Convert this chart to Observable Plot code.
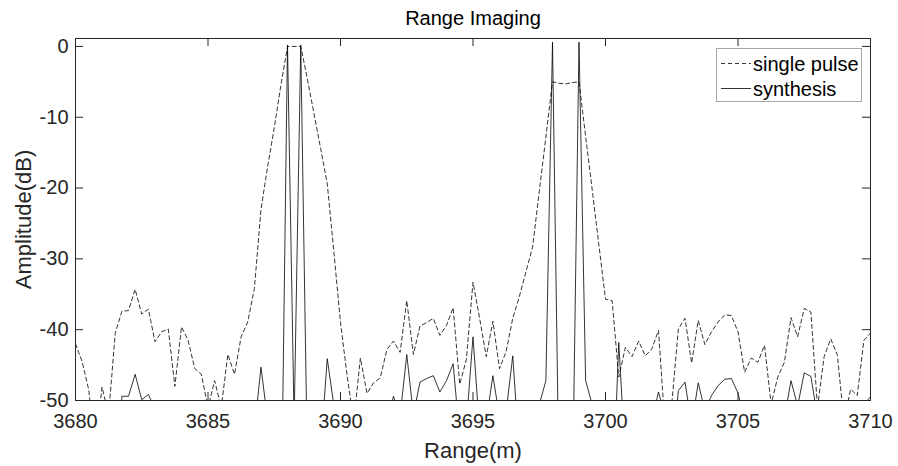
<!DOCTYPE html>
<html>
<head>
<meta charset="utf-8">
<script src="https://cdn.jsdelivr.net/npm/d3@7"></script>
<script src="https://cdn.jsdelivr.net/npm/@observablehq/plot@0.6"></script>
<style>
  html, body { margin: 0; padding: 0; background: #fff; }
  #chart { width: 898px; height: 466px; }
</style>
</head>
<body>
<div id="chart"></div>
<script>
// Range samples (m), step 0.25 m
const rangeM = [
  3680, 3680.25, 3680.5, 3680.75, 3681, 3681.25, 3681.5, 3681.75,
  3682, 3682.25, 3682.5, 3682.75, 3683, 3683.25, 3683.5, 3683.75,
  3684, 3684.25, 3684.5, 3684.75, 3685, 3685.25, 3685.5, 3685.75,
  3686, 3686.25, 3686.5, 3686.75, 3687, 3687.25, 3687.5, 3687.75,
  3688, 3688.25, 3688.5, 3688.75, 3689, 3689.25, 3689.5, 3689.75,
  3690, 3690.25, 3690.5, 3690.75, 3691, 3691.25, 3691.5, 3691.75,
  3692, 3692.25, 3692.5, 3692.75, 3693, 3693.25, 3693.5, 3693.75,
  3694, 3694.25, 3694.5, 3694.75, 3695, 3695.25, 3695.5, 3695.75,
  3696, 3696.25, 3696.5, 3696.75, 3697, 3697.25, 3697.5, 3697.75,
  3698, 3698.25, 3698.5, 3698.75, 3699, 3699.25, 3699.5, 3699.75,
  3700, 3700.25, 3700.5, 3700.75, 3701, 3701.25, 3701.5, 3701.75,
  3702, 3702.25, 3702.5, 3702.75, 3703, 3703.25, 3703.5, 3703.75,
  3704, 3704.25, 3704.5, 3704.75, 3705, 3705.25, 3705.5, 3705.75,
  3706, 3706.25, 3706.5, 3706.75, 3707, 3707.25, 3707.5, 3707.75,
  3708, 3708.25, 3708.5, 3708.75, 3709, 3709.25, 3709.5, 3709.75,
  3710
];

// Amplitude (dB) of the single pulse (dashed)
const singlePulse = [
  -42.0, -44.5, -48.5, -57.0, -48.1, -52.0, -40.5, -37.4,
  -37.3, -34.3, -37.8, -37.1, -41.7, -40.3, -39.9, -48.0,
  -39.6, -41.5, -45.5, -46.3, -51.0, -47.2, -51.0, -43.5,
  -46.3, -41.0, -38.9, -34.2, -23.0, -17.0, -11.5, -5.5,
  0.0, 0.0, 0.0, -4.6, -9.5, -14.4, -19.4, -29.0,
  -39.0, -46.5, -53.0, -44.0, -49.0, -47.5, -46.8, -42.8,
  -41.6, -43.2, -35.9, -43.5, -39.5, -39.0, -38.4, -40.8,
  -39.4, -36.9, -47.7, -44.2, -33.3, -38.4, -43.8, -38.8,
  -45.5, -43.1, -38.4, -35.3, -31.8, -28.3, -20.5, -12.8,
  -5.0, -5.2, -5.3, -5.1, -5.0, -12.7, -20.3, -28.0,
  -35.7, -35.9, -46.7, -42.5, -43.8, -41.6, -43.7, -42.7,
  -40.1, -54.0, -50.5, -39.9, -38.4, -44.7, -38.7, -42.1,
  -40.3, -38.9, -37.9, -38.0, -40.3, -46.0, -44.0, -44.6,
  -42.2, -50.5, -46.7, -44.6, -38.3, -41.0, -37.0, -37.5,
  -51.0, -43.8, -41.3, -43.6, -53.0, -48.4, -49.3, -41.5,
  -40.5
];

// Amplitude (dB) of the synthesis (solid)
const synthesis = [
  -60, -62, -58, -65, -60, -58, -75, -49.4,
  -49.4, -46.3, -49.9, -49.15, -51.2, -58, -62, -57,
  -60, -63, -58, -61, -57, -60, -64, -58,
  -61, -59, -62, -54.2, -45.3, -52.8, -60, -71,
  0.2, -53, 0.2, -59, -62, -57, -44.1, -50.7,
  -58, -61, -63, -57, -60, -62, -58, -53,
  -49.4, -52.2, -43.5, -52, -47.4, -46.9, -46.5, -48.8,
  -47.2, -44.8, -55.2, -53.4, -41, -54.3, -52.9, -46.5,
  -52.3, -51.6, -43.7, -57.5, -60, -58, -50.6, -47.2,
  0.6, -62.7, -66, -64.3, 0.6, -47.2, -50.6, -60,
  -63, -66, -41.8, -58.2, -61, -59, -57, -52.8,
  -48.8, -52.2, -58.6, -48.6, -47.4, -53.5, -47.5, -51.5,
  -49.3, -47.9, -47.0, -46.9, -48.96, -52.7, -60, -62,
  -58, -61, -59, -52.5, -47.2, -50.8, -46.1, -46.6,
  -52.3, -60, -58, -62, -59, -61, -57, -50.5,
  -49.5
];

const xTicks = [3680, 3685, 3690, 3695, 3700, 3705, 3710];
const yTicks = [-50, -40, -30, -20, -10, 0];
const seriesNames = ["single pulse", "synthesis"];
const titleText = "Range Imaging";
const xLabel = "Range(m)";
const yLabel = "Amplitude(dB)";

const table = rangeM.map((r, i) => ({range: r, single: singlePulse[i], synth: synthesis[i]}));

const W = 898, H = 466;
const mT = 38, mR = 28, mB = 66, mL = 75;
const plotW = W - mL - mR, plotH = H - mT - mB;
const tickLen = 8;
const ink = "#262626";
const font = "'Liberation Sans', Arial, Helvetica, sans-serif";
const fmt = d => String(d);

const chart = Plot.plot({
  width: W,
  height: H,
  marginTop: mT,
  marginRight: mR,
  marginBottom: mB,
  marginLeft: mL,
  style: {fontFamily: font, fontSize: "20px", color: ink, background: "#fff", overflow: "visible"},
  x: {domain: [3680, 3710]},
  y: {domain: [-50, 1.12]},
  marks: [
    Plot.line(table, {x: "range", y: "single", stroke: "#000", strokeWidth: 0.8, strokeDasharray: "4,3", clip: true}),
    Plot.line(table, {x: "range", y: "synth", stroke: "#000", strokeWidth: 0.8, clip: true}),
    // inward ticks on all four sides
    Plot.ruleX(xTicks, {stroke: ink, strokeWidth: 1, insetTop: plotH - tickLen}),
    Plot.ruleX(xTicks, {stroke: ink, strokeWidth: 1, insetBottom: plotH - tickLen}),
    Plot.ruleY(yTicks, {stroke: ink, strokeWidth: 1, insetRight: plotW - tickLen}),
    Plot.ruleY(yTicks, {stroke: ink, strokeWidth: 1, insetLeft: plotW - tickLen}),
    Plot.frame({stroke: ink, strokeWidth: 1}),
    Plot.axisX({ticks: xTicks, tickSize: 0, tickPadding: 13, tickFormat: fmt, fontSize: 20, fill: ink, label: null}),
    Plot.axisY({ticks: yTicks, tickSize: 0, tickPadding: 7, tickFormat: fmt, fontSize: 20, fill: ink, label: null}),
    Plot.text([titleText], {frameAnchor: "top", dy: -20, lineAnchor: "middle", fontSize: 20, fill: "#000"}),
    Plot.text([xLabel], {frameAnchor: "bottom", dy: 50, lineAnchor: "middle", fontSize: 22, fill: ink}),
    Plot.text([yLabel], {frameAnchor: "left", dx: -52, rotate: -90, lineAnchor: "middle", textAnchor: "middle", fontSize: 22, fill: ink})
  ]
});

// Legend box (top-right, inside axes)
const svg = d3.select(chart);
const lg = svg.append("g")
  .attr("font-family", font)
  .attr("font-size", 20)
  .attr("text-anchor", "start");
lg.append("rect").attr("x", 716.5).attr("y", 48.5).attr("width", 145).attr("height", 53)
  .attr("fill", "#fff").attr("stroke", "#a6a6a6").attr("stroke-width", 1);
const rows = [{name: seriesNames[0], dash: "4,3", y: 63.5}, {name: seriesNames[1], dash: null, y: 88.5}];
rows.forEach(r => {
  const ln = lg.append("line").attr("x1", 721).attr("x2", 751).attr("y1", r.y).attr("y2", r.y)
    .attr("stroke", "#000").attr("stroke-width", 0.8);
  if (r.dash) ln.attr("stroke-dasharray", r.dash);
  lg.append("text").attr("x", 753).attr("y", r.y).attr("dy", "0.35em")
    .attr("text-anchor", "start").attr("fill", "#000").text(r.name);
});

document.getElementById("chart").appendChild(chart);
</script>
</body>
</html>
